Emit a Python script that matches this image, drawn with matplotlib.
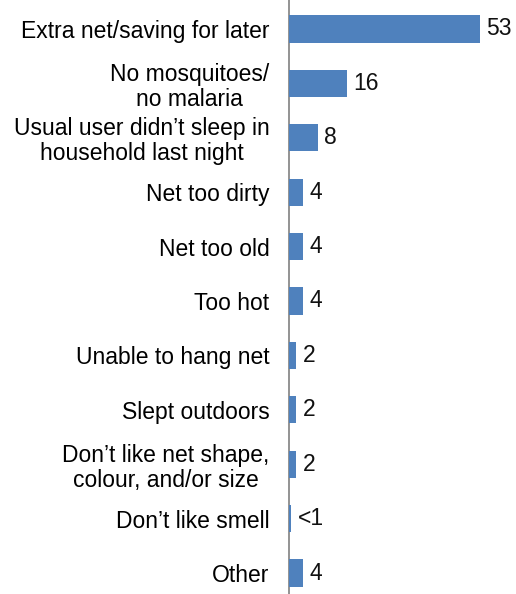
import matplotlib
matplotlib.use("Agg")
import matplotlib.pyplot as plt

# data
kategorier = ["Extra net/saving for later", "No mosquitoes/\nno malaria",
              "Usual user didn\u2019t sleep in\nhousehold last night", "Net too dirty",
              "Net too old", "Too hot", "Unable to hang net", "Slept outdoors",
              "Don\u2019t like net shape,\ncolour, and/or size", "Don\u2019t like smell", "Other"]
verdier = [53, 16, 8, 4, 4, 4, 2, 2, 2, 0.6, 4]
etiketter = ["53", "16", "8", "4", "4", "4", "2", "2", "2", "<1", "4"]

plt.rcParams["font.family"] = ["Liberation Sans", "DejaVu Sans"]

fig = plt.figure(figsize=(5.16, 5.94), dpi=100)
ax = fig.add_axes([289 / 516, 0, 1 - 289 / 516, 1])

pos = list(range(len(kategorier)))
ax.barh(pos, verdier, height=0.5, color="#4F81BD", zorder=3)

for p, v, t in zip(pos, verdier, etiketter):
    ax.text(v + 1.8, p, t, va="center", ha="left", fontsize=16.5, color="#111111")

ax.set_yticks(pos)
ax.set_yticklabels(kategorier, fontsize=16.5, multialignment="center", linespacing=1.1)
ax.tick_params(axis="y", length=0, pad=14)
ax.set_xticks([])
ax.set_ylim(10.386, -0.533)
ax.set_xlim(0, 63)

for s in ["top", "right", "bottom"]:
    ax.spines[s].set_visible(False)
ax.spines["left"].set_color("#808080")
ax.spines["left"].set_linewidth(1.2)
ax.spines["left"].set_zorder(2)

fig.savefig("out.png", dpi=100)
